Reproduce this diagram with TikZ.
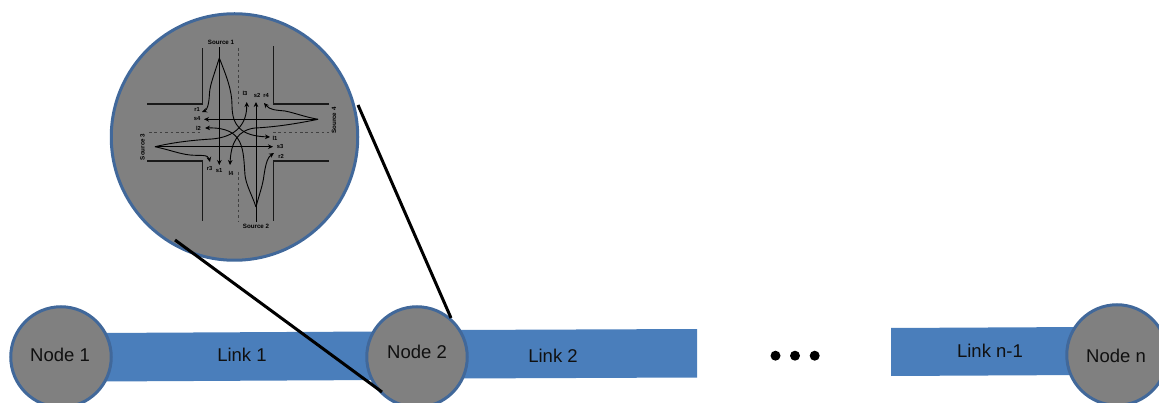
\documentclass[tikz,border=0pt]{standalone}
\usepackage{fontspec}
\setmainfont{Liberation Sans}
\usetikzlibrary{arrows.meta}
\definecolor{nodegray}{HTML}{808080}
\definecolor{rimblue}{HTML}{41689A}
\definecolor{barblue}{HTML}{4A7EBB}
\definecolor{inkdark}{HTML}{101010}
\tikzset{
  x=1pt,y=-1pt,
  hub/.style={circle,draw=rimblue,fill=nodegray,line width=3pt,inner sep=0pt,minimum size=#1},
  bigtext/.style={text=inkdark,inner sep=0pt,font=\fontsize{18.5}{20}\selectfont},
  linkbar/.style={fill=barblue},
  callout/.style={draw=black,line width=3pt},
  wall/.style={draw=black!90,line width=1.1pt},
  lane/.style={draw=black!75,line width=1pt,dash pattern=on 2.6pt off 2.8pt},
  flow/.style={draw=black,line width=0.9pt,-{Stealth[length=5pt,width=4.6pt]}},
  srcname/.style={inner sep=0pt,font=\bfseries\fontsize{6.2}{7}\selectfont},
  turn/.style={inner sep=0pt,font=\bfseries\fontsize{5.8}{7}\selectfont},
  dotmark/.style={circle,fill=black,inner sep=0pt,minimum size=10pt}
}
\begin{document}
\begin{tikzpicture}
\path[use as bounding box] (0,0) rectangle (1159,403);
\clip (0,0) rectangle (1159,403);
% link bars
\path[linkbar] (100,333) -- (380,331.5) -- (380,380) -- (100,381.5) -- cycle;
\path[linkbar] (455,330) -- (697,329) -- (697,377.5) -- (455,378.5) -- cycle;
\path[linkbar] (891,328) -- (1085,327) -- (1085,375) -- (891,376) -- cycle;
% magnified intersection
\node[hub=246.5pt] (zoomc) at (234.5,137) {};
% road nodes
\node[hub=100.5pt] (n1) at (61,357) {};
\node[hub=100.5pt] (n2) at (417,357) {};
\node[hub=100.5pt] (nn) at (1117,355) {};
% callout lines
\coordinate (ctop) at (358,105);
\coordinate (cbot) at (175,240);
\coordinate (ntop) at (451,318);
\coordinate (nbot) at (382,392);
\draw[callout] (ctop) -- (ntop);
\draw[callout] (cbot) -- (nbot);
\node[bigtext] (t1) at (60,354.5) {Node 1};
\node[bigtext] (t2) at (417,352) {Node 2};
\node[bigtext] (tn) at (1116,356) {Node n};
\node[bigtext] (l1) at (242,355) {Link 1};
\node[bigtext] (l2) at (553,356) {Link 2};
\node[bigtext] (ln) at (990,351) {Link n-1};
\node[dotmark] (d1) at (775.5,355.7) {};
\node[dotmark] (d2) at (795,355.7) {};
\node[dotmark] (d3) at (814.7,355.7) {};
% kerbs
\draw[wall] (147,104) -- (202.7,104) -- (202.7,48);
\draw[wall] (329,104) -- (273.7,104) -- (273.7,46.5);
\draw[wall] (147,161) -- (202.7,161) -- (202.7,220.7);
\draw[wall] (329,161) -- (273.7,161) -- (273.7,220.7);
% lane dividers
\draw[lane] (238,48) -- (238,104);
\draw[lane] (238,172) -- (238,220.7);
\draw[lane] (149,132.7) -- (202,132.7);
\draw[lane] (273,132.7) -- (329,132.7);
% sources and labels
\node[srcname] (src1) at (221,42) {Source 1};
\node[srcname] (src2) at (256,226) {Source 2};
\node[srcname,rotate=90] (src3) at (142.5,147) {Source 3};
\node[srcname,rotate=90] (src4) at (334,120.5) {Source 4};
\node[turn] (r1) at (197,110) {r1};
\node[turn] (s4) at (197,119) {s4};
\node[turn] (l2t) at (198.5,128) {l2};
\node[turn] (l3) at (245,93) {l3};
\node[turn] (s2) at (257,96) {s2};
\node[turn] (r4) at (266,96) {r4};
\node[turn] (l1t) at (275,138) {l1};
\node[turn] (s3) at (280,147) {s3};
\node[turn] (r2) at (281,156) {r2};
\node[turn] (r3) at (209.5,169) {r3};
\node[turn] (s1) at (219,171) {s1};
\node[turn] (l4) at (231,173) {l4};
% flow end points
\coordinate (a1) at (219.3,58);
\coordinate (a2) at (256,207);
\coordinate (a3) at (155,146.7);
\coordinate (a4) at (318,119.3);
\coordinate (e1s) at (219.3,165);
\coordinate (b1s) at (219.3,47);
\coordinate (e2s) at (256,102);
\coordinate (b2s) at (256,222);
\coordinate (e3s) at (273,146.7);
\coordinate (e4s) at (204,119.3);
\coordinate (er1) at (202,112);
\coordinate (el1) at (270,137);
\coordinate (el3) at (246.7,102);
\coordinate (er3) at (210,162);
\coordinate (er4) at (264,103);
\coordinate (el4) at (230,165);
\coordinate (er2) at (274,153);
\coordinate (el2) at (205,128);
% straight flows
\draw[flow] (b1s) -- (e1s);
\draw[flow] (b2s) -- (e2s);
\draw[flow] (a3) -- (e3s);
\draw[flow] (a4) -- (e4s);
% turning flows
\draw[flow] (a1) .. controls (214,75) and (210,85) .. (209.5,93) .. controls (209,105) and (207,110) .. (er1);
\draw[flow] (a1) .. controls (226,75) and (232,90) .. (232,105) .. controls (232,125) and (240,136) .. (el1);
\draw[flow] (a3) .. controls (175,142) and (195,140) .. (212,139) .. controls (235,137) and (247,125) .. (el3);
\draw[flow] (a3) .. controls (170,150) and (180,154) .. (190,155) .. controls (200,156) and (208,154) .. (er3);
\draw[flow] (a4) .. controls (305,117) and (295,113) .. (285,111) .. controls (275,110) and (270,110) .. (er4);
\draw[flow] (a4) .. controls (295,124) and (275,127) .. (255,128) .. controls (238,130) and (231,142) .. (el4);
\draw[flow] (a2) .. controls (259,195) and (263,185) .. (264,175) .. controls (266,162) and (268,157) .. (er2);
\draw[flow] (a2) .. controls (252,195) and (246,185) .. (245,175) .. controls (243,150) and (245,127) .. (el2);
\end{tikzpicture}
\end{document}
